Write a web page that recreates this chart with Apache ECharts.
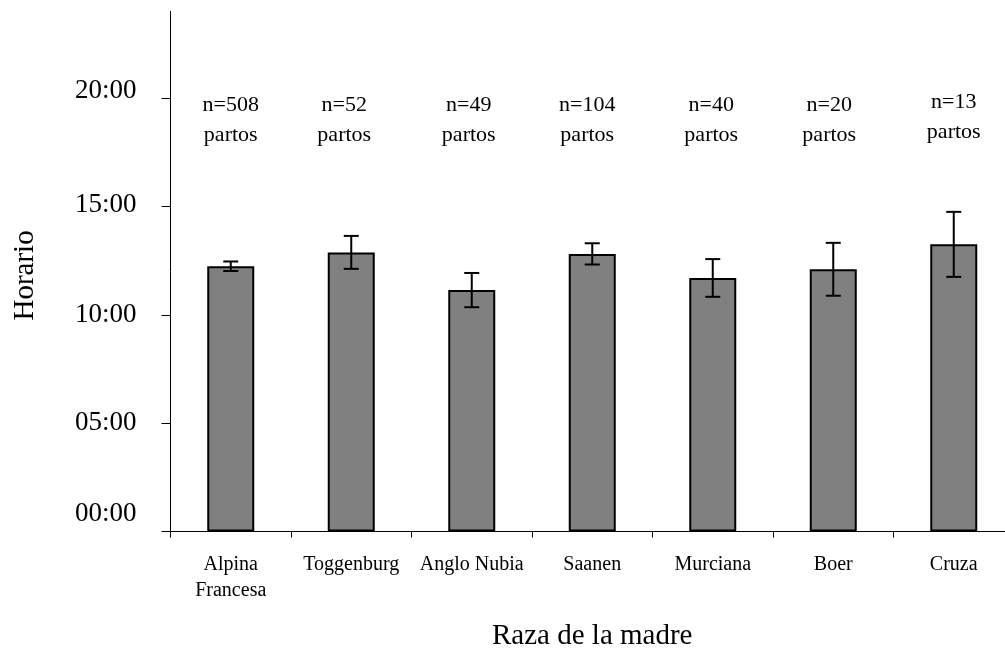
<!DOCTYPE html>
<html>
<head>
<meta charset="utf-8">
<script src="https://cdn.jsdelivr.net/npm/echarts@6/dist/echarts.min.js"></script>
<style>
html,body{margin:0;padding:0;background:#fff;}
#chart{width:1005px;height:649px;}
</style>
</head>
<body>
<div id="chart"></div>
<script>
// ---- data ----
const categories = ['Alpina\nFrancesa', 'Toggenburg', 'Anglo Nubia', 'Saanen', 'Murciana', 'Boer', 'Cruza'];
const meanHour = [12.24, 12.88, 11.14, 12.81, 11.70, 12.10, 13.25];   // hours
const errHour = [0.22, 0.76, 0.79, 0.49, 0.87, 1.22, 1.50];          // hours (±)
const nPartos = [508, 52, 49, 104, 40, 20, 13];
const yTicks = [0, 5, 10, 15, 20];

// ---- layout / style (not data) ----
const FONT = "'Liberation Serif', 'Times New Roman', serif";
const annY = 18.96;
const annNudge = [[0, 0], [-7, 0], [-3, 0], [-5, 0], [-1.5, 0], [-4, 0], [0, -3]];
const yLabelPad = {0: 36, 5: 0, 10: 0, 15: 4, 20: 14};

const chart = echarts.init(document.getElementById('chart'), null, {renderer: 'canvas'});

const errData = meanHour.map((m, i) => [i, m - errHour[i], m + errHour[i]]);
const annData = nPartos.map((n, i) => ({value: [i, annY], label: {offset: annNudge[i]}}));

function pad(v) { return (v < 10 ? '0' : '') + v + ':00'; }

const rich = {};
yTicks.forEach(t => {
  rich['t' + t] = {fontFamily: FONT, fontSize: 27, color: '#000', padding: [0, 0, yLabelPad[t], 0]};
});

const option = {
  backgroundColor: '#fff',
  animation: false,
  grid: {left: 170.5, right: -9, top: 11.4, bottom: 117.5, containLabel: false, outerBoundsMode: 'none'},
  xAxis: {
    type: 'category',
    data: categories,
    boundaryGap: true,
    name: 'Raza de la madre',
    nameLocation: 'middle',
    nameGap: 90,
    nameTextStyle: {fontFamily: FONT, fontSize: 29, color: '#000'},
    axisLine: {show: true, lineStyle: {color: '#000', width: 1}},
    axisTick: {show: true, length: 6, alignWithLabel: false, lineStyle: {color: '#000'}},
    axisLabel: {fontFamily: FONT, fontSize: 20, lineHeight: 26, color: '#000', margin: 20, interval: 0}
  },
  yAxis: {
    type: 'value',
    min: 0, max: 24,
    interval: 5,
    name: 'Horario',
    nameLocation: 'middle',
    nameRotate: 90,
    nameGap: 131,
    nameTextStyle: {fontFamily: FONT, fontSize: 29, color: '#000', padding: [0, 8, 0, 0]},
    splitLine: {show: false},
    axisLine: {show: true, lineStyle: {color: '#000', width: 1}},
    axisTick: {show: true, length: 9, customValues: yTicks, lineStyle: {color: '#000'}},
    axisLabel: {
      customValues: yTicks,
      fontFamily: FONT, fontSize: 27, color: '#000', margin: 34,
      formatter: v => '{t' + v + '|' + pad(v) + '}',
      rich: rich
    }
  },
  series: [
    {
      type: 'bar',
      data: meanHour,
      barWidth: 47,
      itemStyle: {color: '#808080', borderColor: '#000', borderWidth: 2},
      z: 2
    },
    {
      type: 'custom',
      data: errData,
      z: 5,
      renderItem: function (params, api) {
        const x = api.value(0);
        const lo = api.coord([x, api.value(1)]);
        const hi = api.coord([x, api.value(2)]);
        const hw = 7.5;
        const style = {stroke: '#000', lineWidth: 2};
        return {
          type: 'group',
          children: [
            {type: 'line', shape: {x1: lo[0], y1: lo[1], x2: hi[0], y2: hi[1]}, style: style},
            {type: 'line', shape: {x1: lo[0] - hw, y1: lo[1], x2: lo[0] + hw, y2: lo[1]}, style: style},
            {type: 'line', shape: {x1: hi[0] - hw, y1: hi[1], x2: hi[0] + hw, y2: hi[1]}, style: style}
          ]
        };
      }
    },
    {
      type: 'scatter',
      data: annData,
      symbolSize: 0,
      silent: true,
      itemStyle: {opacity: 1},
      z: 6,
      label: {
        show: true,
        position: 'inside',
        fontFamily: FONT,
        fontSize: 22,
        lineHeight: 30,
        color: '#000',
        opacity: 1,
        formatter: p => 'n=' + nPartos[p.dataIndex] + '\npartos'
      }
    }
  ]
};
chart.setOption(option);
</script>
</body>
</html>
